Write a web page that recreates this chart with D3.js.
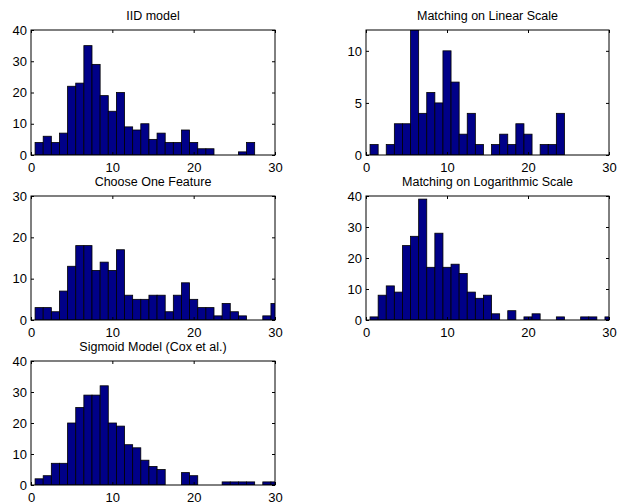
<!DOCTYPE html>
<html>
<head>
  <script src="https://cdnjs.cloudflare.com/ajax/libs/d3/7.8.5/d3.min.js"></script>
  <style>
    body { margin: 0; background: #fff; }
    text { font-family: "Liberation Sans", Arial, sans-serif; }
  </style>
</head>
<body>
  <script>
    // bin centres 1..30, counts
    var bins = d3.range(1, 31);

    var iidCounts = [4, 6, 4, 7, 22, 23, 35, 29, 19, 14, 20, 9, 8, 10, 5, 7, 4, 4, 8, 4, 2, 2, 0, 0, 0, 1, 4, 0, 0, 0];
    var linearCounts = [1, 0, 1, 3, 3, 12, 4, 6, 5, 10, 7, 2, 4, 1, 0, 1, 2, 1, 3, 2, 0, 1, 1, 4, 0, 0, 0, 0, 0, 0];
    var oneFeatureCounts = [3, 3, 2, 7, 13, 18, 18, 12, 14, 12, 17, 6, 5, 5, 6, 6, 2, 6, 9, 5, 3, 3, 1, 4, 2, 1, 0, 0, 1, 4];
    var logCounts = [1, 8, 11, 9, 24, 27, 39, 17, 28, 17, 18, 15, 9, 7, 8, 2, 0, 3, 0, 1, 2, 0, 0, 1, 0, 0, 1, 1, 0, 1];
    var sigmoidCounts = [2, 3, 7, 7, 20, 25, 29, 29, 32, 20, 19, 13, 12, 8, 6, 5, 0, 0, 4, 3, 0, 0, 0, 1, 1, 1, 1, 0, 1, 1];

    var titles = ["IID model", "Matching on Linear Scale", "Choose One Feature",
                  "Matching on Logarithmic Scale", "Sigmoid Model (Cox et al.)"];
    var yMax = [40, 12, 30, 40, 40];
    var yTicks = [[0, 10, 20, 30, 40], [0, 5, 10], [0, 10, 20, 30], [0, 10, 20, 30, 40], [0, 10, 20, 30, 40]];
    var xTicks = [0, 10, 20, 30];
    var series = [iidCounts, linearCounts, oneFeatureCounts, logCounts, sigmoidCounts];

    // panel boxes [left, top, right, bottom]
    var boxes = [
      [31, 30, 275, 155],
      [366, 30, 609, 155],
      [31, 196, 275, 320],
      [366, 196, 609, 320],
      [31, 361, 275, 485]
    ];

    var svg = d3.select("body").append("svg")
      .attr("width", 617)
      .attr("height", 502);

    series.forEach(function(counts, k) {
      var b = boxes[k];
      var x = d3.scaleLinear().domain([0, 30]).range([b[0], b[2]]);
      var y = d3.scaleLinear().domain([0, yMax[k]]).range([b[3], b[1]]);

      var g = svg.append("g");
      var clipId = "clip" + k;
      g.append("clipPath").attr("id", clipId)
        .append("rect")
        .attr("x", b[0]).attr("y", b[1])
        .attr("width", b[2] - b[0]).attr("height", b[3] - b[1]);

      g.append("g").attr("clip-path", "url(#" + clipId + ")")
        .selectAll("rect")
        .data(bins)
        .enter().append("rect")
        .attr("x", function(d) { return x(d - 0.5); })
        .attr("y", function(d, i) { return y(Math.min(counts[i], yMax[k])); })
        .attr("width", function(d) { return x(d + 0.5) - x(d - 0.5); })
        .attr("height", function(d, i) { return y(0) - y(Math.min(counts[i], yMax[k])); })
        .style("fill", "#000088")
        .style("stroke", "#000")
        .style("stroke-width", 0.8);

      // axes, matlab style: ticks inside, mirrored on top/right
      var tl = 3;
      var xb = g.append("g").attr("transform", "translate(0," + b[3] + ")")
        .call(d3.axisBottom(x).tickValues(xTicks).tickSizeInner(-tl).tickSizeOuter(0).tickPadding(7.5));
      var xt = g.append("g").attr("transform", "translate(0," + b[1] + ")")
        .call(d3.axisTop(x).tickValues(xTicks).tickSizeInner(-tl).tickSizeOuter(0).tickFormat(""));
      var yl = g.append("g").attr("transform", "translate(" + b[0] + ",0)")
        .call(d3.axisLeft(y).tickValues(yTicks[k]).tickSizeInner(-tl).tickSizeOuter(0).tickPadding(4));
      var yr = g.append("g").attr("transform", "translate(" + b[2] + ",0)")
        .call(d3.axisRight(y).tickValues(yTicks[k]).tickSizeInner(-tl).tickSizeOuter(0).tickFormat(""));

      [xb, xt, yl, yr].forEach(function(a) {
        a.select(".domain").remove();
        a.selectAll("line").style("stroke", "#000");
        a.selectAll("text")
          .style("font-family", "'Liberation Sans', Arial, sans-serif")
          .style("font-size", "13px")
          .style("fill", "#000");
      });

      g.append("rect")
        .attr("x", b[0]).attr("y", b[1])
        .attr("width", b[2] - b[0]).attr("height", b[3] - b[1])
        .style("fill", "none")
        .style("stroke", "#000")
        .style("stroke-width", 1);

      g.append("text")
        .attr("x", (b[0] + b[2]) / 2)
        .attr("y", b[1] - 10)
        .attr("text-anchor", "middle")
        .style("font-size", "12.5px")
        .text(titles[k]);
    });
  </script>
</body>
</html>
